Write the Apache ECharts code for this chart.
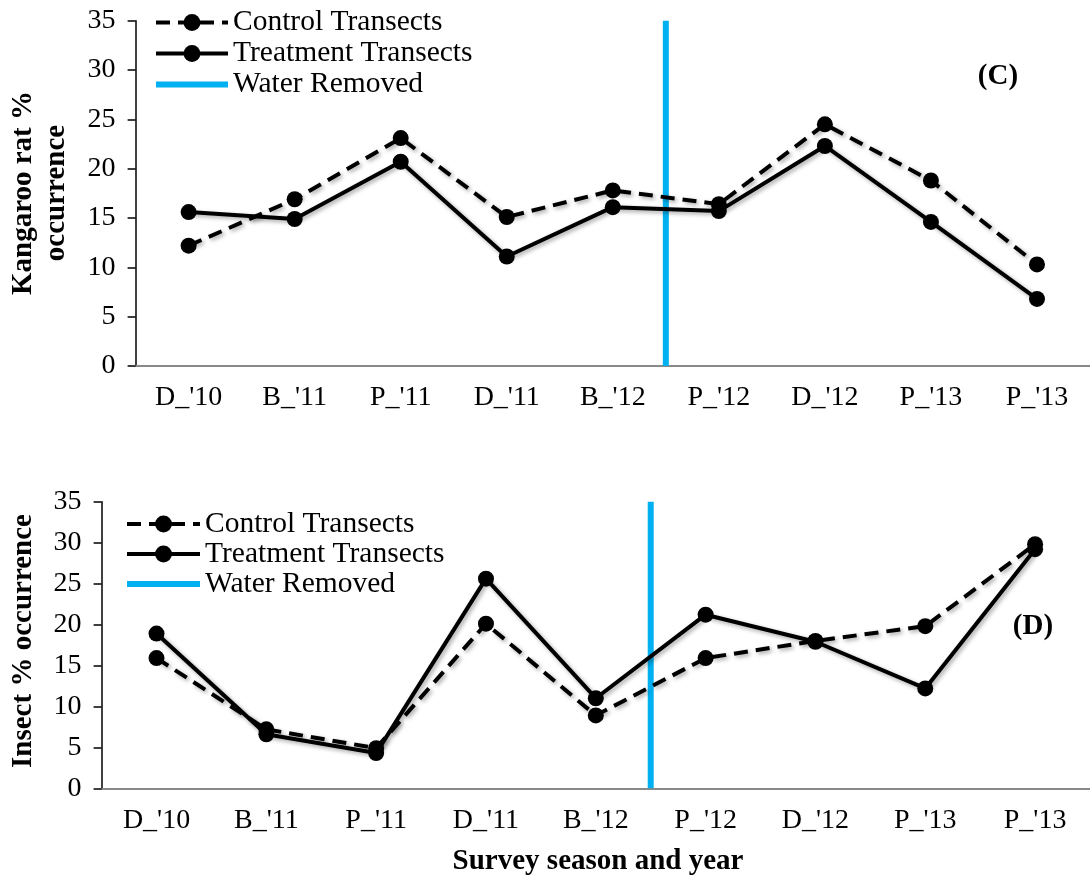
<!DOCTYPE html>
<html>
<head>
<meta charset="utf-8">
<script src="https://cdn.jsdelivr.net/npm/echarts@6/dist/echarts.min.js"></script>
<style>
html,body{margin:0;padding:0;background:#fff;}
#chart{width:1090px;height:881px;}
</style>
</head>
<body>
<div id="chart"></div>
<script>
// ---- data ----
const categories = ["D_'10", "B_'11", "P_'11", "D_'11", "B_'12", "P_'12", "D_'12", "P_'13", "P_'13"];
const kratControl   = [12.2, 16.9, 23.1, 15.1, 17.8, 16.4, 24.5, 18.8, 10.3];
const kratTreatment = [15.6, 14.9, 20.7, 11.1, 16.1, 15.7, 22.3, 14.6, 6.8];
const insectControl   = [15.9, 7.2, 4.9, 20.1, 8.9, 15.9, 18.0, 19.8, 29.8];
const insectTreatment = [18.9, 6.6, 4.3, 25.6, 11.0, 21.2, 17.9, 12.2, 29.2];
const waterRemovedAt = 4.5; // between B_'12 and P_'12 (category index)
const yMin = 0, yMax = 35, yInterval = 5;

const FONT = 'Liberation Serif';
const chart = echarts.init(document.getElementById('chart'));

const DASH = [14, 8];
const shadow = {shadowColor: 'rgba(0,0,0,0.35)', shadowBlur: 4, shadowOffsetX: 2, shadowOffsetY: 2};
function ctrlSeries(xi, yi, data) {
  return {name: 'Control Transects', type: 'line', xAxisIndex: xi, yAxisIndex: yi, data: data,
    symbol: 'circle', symbolSize: 16, itemStyle: {color: '#000'},
    lineStyle: Object.assign({color: '#000', width: 4, type: DASH}, shadow), z: 3};
}
function treatSeries(xi, yi, data) {
  return {name: 'Treatment Transects', type: 'line', xAxisIndex: xi, yAxisIndex: yi, data: data,
    symbol: 'circle', symbolSize: 16, itemStyle: {color: '#000'},
    lineStyle: Object.assign({color: '#000', width: 4, type: 'solid'}, shadow), z: 3};
}
function waterSeries(xi, yi) {
  return {name: 'Water Removed', type: 'line', xAxisIndex: xi, yAxisIndex: yi,
    data: [[waterRemovedAt, yMin], [waterRemovedAt, yMax]],
    symbol: 'none', itemStyle: {color: '#00B0F0'},
    lineStyle: {color: '#00B0F0', width: 6}, z: 2};
}
function catAxis(gi) {
  return {type: 'category', gridIndex: gi, data: categories, boundaryGap: true,
    axisLine: {onZero: false, lineStyle: {color: '#898989', width: 2}},
    axisTick: {alignWithLabel: true, length: 7, lineStyle: {color: '#898989', width: 2}},
    axisLabel: {color: '#000', fontFamily: FONT, fontSize: 28, margin: 18}};
}
function valXAxis(gi) {
  return {type: 'value', gridIndex: gi, min: -0.5, max: categories.length - 0.5, show: false,
    axisLine: {onZero: false}};
}
function yAxis(gi) {
  return {type: 'value', gridIndex: gi, min: yMin, max: yMax, interval: yInterval,
    splitLine: {show: false},
    axisLine: {show: true, onZero: false, lineStyle: {color: '#000', width: 1.5}},
    axisTick: {show: true, length: 8, lineStyle: {color: '#000', width: 1.5}},
    axisLabel: {color: '#000', fontFamily: FONT, fontSize: 28, margin: 20}};
}
const legendData = [
  {name: 'Control Transects', lineStyle: {width: 4, type: DASH, color: '#000'}},
  {name: 'Treatment Transects', lineStyle: {width: 4, type: 'solid', color: '#000'}},
  {name: 'Water Removed', icon: 'path://M0,0L72,0L72,6L0,6Z', itemStyle: {color: '#00B0F0'}}
];

chart.setOption({
  animation: false,
  backgroundColor: '#fff',
  grid: [
    {left: 135.6, right: -4, top: 20.7, height: 345.3},
    {left: 101.6, right: -4, top: 501.7, height: 286.6}
  ],
  xAxis: [catAxis(0), valXAxis(0), catAxis(1), valXAxis(1)],
  yAxis: [yAxis(0), yAxis(1)],
  legend: [
    {orient: 'vertical', left: 154, top: 7, padding: 0, data: legendData, itemWidth: 72, itemHeight: 21, itemGap: 0,
     symbolKeepAspect: true,
     textStyle: {fontFamily: FONT, fontSize: 29.5, color: '#000', lineHeight: 31}, selectedMode: false},
    {orient: 'vertical', left: 125, top: 509, padding: 0, data: legendData, itemWidth: 73, itemHeight: 21, itemGap: 0,
     symbolKeepAspect: true,
     textStyle: {fontFamily: FONT, fontSize: 29.5, color: '#000', lineHeight: 28.5}, selectedMode: false}
  ],
  graphic: [
    {type: 'text', x: 40, y: 193, rotation: Math.PI / 2,
     style: {text: 'Kangaroo rat %\noccurrence', font: 'bold 29px "Liberation Serif"', fill: '#000',
             align: 'center', verticalAlign: 'middle', lineHeight: 33}},
    {type: 'text', x: 24, y: 641, rotation: Math.PI / 2,
     style: {text: 'Insect % occurrence', font: 'bold 29px "Liberation Serif"', fill: '#000',
             align: 'center', verticalAlign: 'middle'}},
    {type: 'text', x: 598, y: 862,
     style: {text: 'Survey season and year', font: 'bold 29px "Liberation Serif"', fill: '#000',
             align: 'center', verticalAlign: 'middle'}},
    {type: 'text', x: 998, y: 77,
     style: {text: '(C)', font: 'bold 29px "Liberation Serif"', fill: '#000', align: 'center', verticalAlign: 'middle'}},
    {type: 'text', x: 1033, y: 627,
     style: {text: '(D)', font: 'bold 29px "Liberation Serif"', fill: '#000', align: 'center', verticalAlign: 'middle'}}
  ],
  series: [
    waterSeries(1, 0),
    ctrlSeries(0, 0, kratControl),
    treatSeries(0, 0, kratTreatment),
    waterSeries(3, 1),
    ctrlSeries(2, 1, insectControl),
    treatSeries(2, 1, insectTreatment)
  ]
});
</script>
</body>
</html>
